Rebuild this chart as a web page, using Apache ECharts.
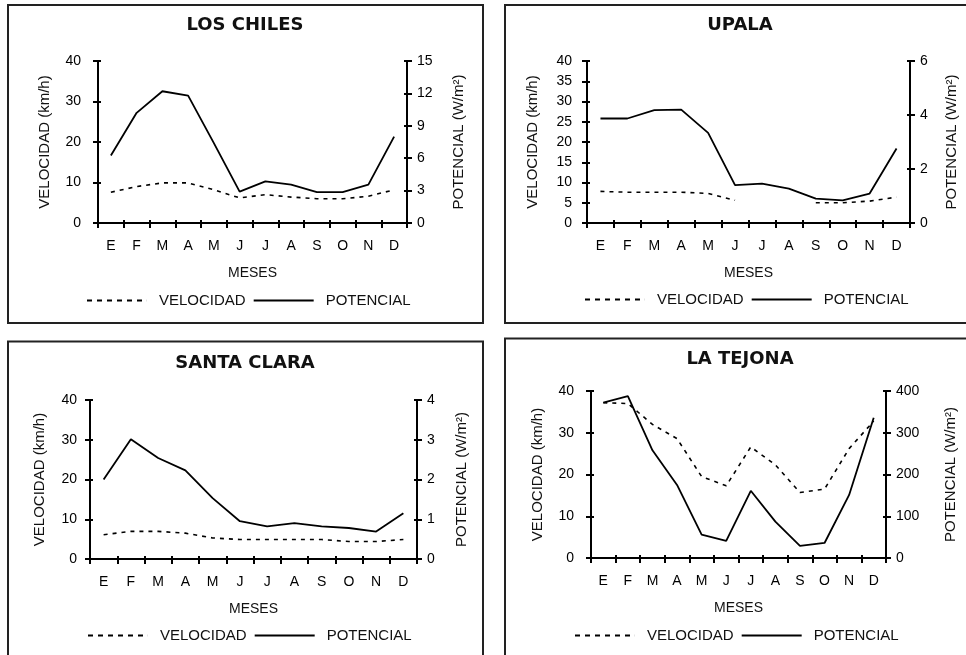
<!DOCTYPE html>
<html>
<head>
<meta charset="utf-8">
<script src="https://cdn.jsdelivr.net/npm/echarts@6/dist/echarts.min.js"></script>
<style>
html,body{margin:0;padding:0;background:#fff;}
#c{width:966px;height:655px;}
</style>
</head>
<body>
<div id="c"></div>
<script>
// ---- DATA ----
const meses = ['E','F','M','A','M','J','J','A','S','O','N','D'];
const titulos = ['LOS CHILES','UPALA','SANTA CLARA','LA TEJONA'];

const velLosChiles = [7.6, 9.0, 9.9, 9.9, 8.2, 6.2, 7.0, 6.4, 6.0, 6.0, 6.6, 8.2];
const potLosChiles = [6.25, 10.2, 12.2, 11.8, 7.4, 2.9, 3.85, 3.55, 2.85, 2.85, 3.55, 8.0];

const velUpala = [7.8, 7.6, 7.6, 7.6, 7.3, 5.6, null, null, 5.0, 5.0, 5.4, 6.4];
const potUpala = [3.87, 3.87, 4.18, 4.2, 3.34, 1.40, 1.46, 1.27, 0.9, 0.84, 1.09, 2.76];

const velSantaClara = [6.1, 6.95, 6.95, 6.5, 5.3, 4.9, 4.9, 4.9, 4.9, 4.4, 4.4, 4.9];
const potSantaClara = [2.0, 3.01, 2.54, 2.23, 1.53, 0.95, 0.82, 0.90, 0.82, 0.78, 0.69, 1.15];

const velLaTejona = [37.2, 37.0, 32.0, 28.6, 19.5, 17.3, 26.6, 22.3, 15.7, 16.5, 26.2, 32.8];
const potLaTejona = [372, 388, 258, 175, 56, 41, 161, 87, 29, 36, 151, 336];

const velTicksMax = [40, 40, 40, 40];
const velTicksInterval = [10, 5, 10, 10];
const potTicksMax = [15, 6, 4, 400];
const potTicksInterval = [3, 2, 1, 100];

const velSeries = [velLosChiles, velUpala, velSantaClara, velLaTejona];
const potSeries = [potLosChiles, potUpala, potSantaClara, potLaTejona];

// ---- LAYOUT ----
const FONT = '"Liberation Sans", Arial, sans-serif';
const grids = [
  {left: 98, top: 61, width: 309, height: 162},
  {left: 587, top: 61, width: 323, height: 162},
  {left: 90, top: 400, width: 327, height: 159},
  {left: 591, top: 391, width: 295, height: 167}
];
const titlePos = [[245, 16], [740, 16], [245, 354], [740, 350]];
const leftNameGap = [46, 47, 43, 46];
const rightNameGap = [44, 34, 37, 57];
const leftLabelMargin = [17, 15, 13, 17];
const legendPos = [[87, 293], [585, 292], [88, 628], [575, 628]];
const panels = [
  [8, 5, 475, 318],
  [505, 5, 470, 318],
  [8, 341.5, 475, 330],
  [505, 338.5, 470, 330]
];
const dashIcon = 'path://M0 0h5v2h-5zM10 0h5v2h-5zM20 0h5v2h-5zM30 0h5v2h-5zM40 0h5v2h-5zM50 0h5v2h-5zM59.9 0h0.1v2h-0.1z';
const solidIcon = 'path://M0 0h60v2h-60z';

const xAxis = [], yAxis = [], series = [], title = [], legend = [], graphic = [];
const axisLineStyle = {color: '#000', width: 2};

for (let i = 0; i < 4; i++) {
  xAxis.push({
    type: 'category', gridIndex: i, data: meses, boundaryGap: true,
    name: 'MESES', nameLocation: 'middle', nameGap: 43,
    nameTextStyle: {fontFamily: FONT, fontSize: 14, color: '#111'},
    axisLine: {lineStyle: axisLineStyle},
    axisTick: {show: true, length: 5, lineStyle: {color: '#000', width: 2}},
    axisLabel: {fontFamily: FONT, fontSize: 14, color: '#000', margin: 16, interval: 0},
    splitLine: {show: false}
  });
  xAxis.push({
    type: 'category', gridIndex: i, data: meses, boundaryGap: true, position: 'bottom',
    axisLine: {show: false}, axisLabel: {show: false},
    axisTick: {show: true, inside: true, length: 3, lineStyle: {color: '#000', width: 2}},
    splitLine: {show: false}
  });
  const yBase = yAxis.length;
  yAxis.push({
    type: 'value', gridIndex: i, position: 'left', min: 0, max: velTicksMax[i], interval: velTicksInterval[i],
    name: 'VELOCIDAD (km/h)', nameLocation: 'middle', nameRotate: 90, nameGap: leftNameGap[i],
    nameTextStyle: {fontFamily: FONT, fontSize: 15, color: '#111'},
    axisLine: {show: true, lineStyle: axisLineStyle},
    axisTick: {show: true, length: 5, lineStyle: {color: '#000', width: 2}},
    axisLabel: {fontFamily: FONT, fontSize: 14, color: '#000', margin: leftLabelMargin[i]},
    splitLine: {show: false}
  });
  yAxis.push({
    type: 'value', gridIndex: i, position: 'right', min: 0, max: potTicksMax[i], interval: potTicksInterval[i],
    name: 'POTENCIAL (W/m²)', nameLocation: 'middle', nameRotate: 90, nameGap: rightNameGap[i],
    nameTextStyle: {fontFamily: FONT, fontSize: 15, color: '#111'},
    axisLine: {show: true, lineStyle: axisLineStyle},
    axisTick: {show: true, length: 5, lineStyle: {color: '#000', width: 2}},
    axisLabel: {fontFamily: FONT, fontSize: 14, color: '#000', margin: 10},
    splitLine: {show: false}
  });
  yAxis.push({
    type: 'value', gridIndex: i, position: 'left', min: 0, max: velTicksMax[i], interval: velTicksInterval[i],
    axisLine: {show: false}, axisLabel: {show: false}, splitLine: {show: false},
    axisTick: {show: true, inside: true, length: 3, lineStyle: {color: '#000', width: 2}}
  });
  yAxis.push({
    type: 'value', gridIndex: i, position: 'right', min: 0, max: potTicksMax[i], interval: potTicksInterval[i],
    axisLine: {show: false}, axisLabel: {show: false}, splitLine: {show: false},
    axisTick: {show: true, inside: true, length: 3, lineStyle: {color: '#000', width: 2}}
  });

  series.push({
    name: 'VELOCIDAD', type: 'line', xAxisIndex: i * 2, yAxisIndex: yBase,
    data: velSeries[i], symbol: 'none', connectNulls: false,
    lineStyle: {color: '#000', width: 1.6, type: [4, 5]},
    itemStyle: {color: '#000'}
  });
  series.push({
    name: 'POTENCIAL', type: 'line', xAxisIndex: i * 2, yAxisIndex: yBase + 1,
    data: potSeries[i], symbol: 'none',
    lineStyle: {color: '#000', width: 1.8, type: 'solid'},
    itemStyle: {color: '#000'}
  });

  title.push({
    text: titulos[i], left: titlePos[i][0], top: titlePos[i][1], textAlign: 'center', padding: 0,
    textStyle: {fontFamily: '"DejaVu Sans", sans-serif', fontWeight: 'bold', fontSize: 18, color: '#111'}
  });

  legend.push({
    data: [{name: 'VELOCIDAD', icon: dashIcon}, {name: 'POTENCIAL', icon: solidIcon}],
    left: legendPos[i][0], top: legendPos[i][1],
    orient: 'horizontal', padding: 0, itemWidth: 60, itemHeight: 14, itemGap: 8,
    selectedMode: false, symbolKeepAspect: true,
    itemStyle: {color: '#000', borderWidth: 0},
    textStyle: {fontFamily: FONT, fontSize: 15, color: '#111', padding: [0, 0, 0, 7]}
  });

  graphic.push({
    type: 'rect', silent: true,
    shape: {x: panels[i][0], y: panels[i][1], width: panels[i][2], height: panels[i][3]},
    style: {fill: 'none', stroke: '#222', lineWidth: 2}
  });
}

const chart = echarts.init(document.getElementById('c'), null, {renderer: 'canvas'});
chart.setOption({
  animation: false,
  backgroundColor: '#fff',
  title: title,
  legend: legend,
  grid: grids,
  xAxis: xAxis,
  yAxis: yAxis,
  series: series,
  graphic: graphic
});
</script>
</body>
</html>
